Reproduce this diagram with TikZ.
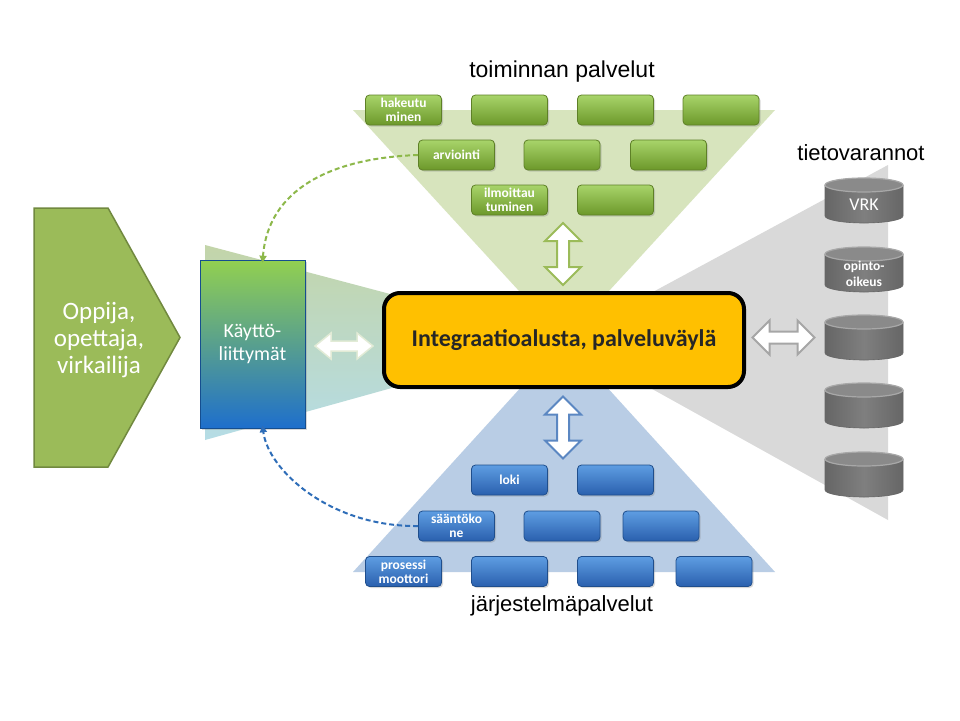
\documentclass[tikz,border=0pt]{standalone}
\usepackage{fontspec}
\setmainfont{Carlito}
\newfontfamily\arialf{Liberation Sans}
\usetikzlibrary{shadows,arrows.meta,calc}
\definecolor{trigreen}{HTML}{D7E4BD}
\definecolor{triblue}{HTML}{B9CDE5}
\definecolor{trigray}{HTML}{D9D9D9}
\definecolor{olive}{HTML}{9BBB59}
\definecolor{olivedk}{HTML}{71893F}
\definecolor{gtop}{HTML}{A8D46A}
\definecolor{gbot}{HTML}{6C982A}
\definecolor{gline}{HTML}{5E8027}
\definecolor{btop}{HTML}{5E9DE2}
\definecolor{bbot}{HTML}{2A60AE}
\definecolor{bline}{HTML}{1F4E8C}
\definecolor{yel}{HTML}{FFC000}
\definecolor{uitop}{HTML}{92D050}
\definecolor{uibot}{HTML}{1E6FCC}
\definecolor{ltrione}{HTML}{C3D5A9}
\definecolor{ltritwo}{HTML}{B5DCE6}
\definecolor{cylbody}{HTML}{7F7F7F}
\definecolor{cyldark}{HTML}{666666}
\definecolor{cyltop}{HTML}{8A8A8A}
\definecolor{cylrim}{HTML}{A8A8A8}
\definecolor{garr}{HTML}{9BBB59}
\definecolor{barr}{HTML}{5B87C2}
\definecolor{grarr}{HTML}{A6A6A6}
\definecolor{larr}{HTML}{E2EBD6}
\definecolor{gdashc}{HTML}{8DB84A}
\definecolor{bdashc}{HTML}{2E6DB8}
\tikzset{
  heading/.style={font=\arialf\fontsize{22}{26}\selectfont, inner sep=0pt},
  smallbox/.style={rounded corners=4pt, minimum width=76pt, minimum height=30pt,
    text=white, font=\bfseries\fontsize{13.5}{14}\selectfont, align=center, inner sep=0pt,
    line width=0.8pt, drop shadow={shadow xshift=1.5pt, shadow yshift=-1.5pt, opacity=0.3}},
  gbox/.style={smallbox, top color=gtop, bottom color=gbot, draw=gline},
  bbox/.style={smallbox, top color=btop, bottom color=bbot, draw=bline},
  cyltext/.style={text=white, align=center, inner sep=0pt},
  pics/dblarrow/.style n args={4}{code={
    \path[pic actions] (-#1,0) -- ({-#1+#2},-#3) -- ({-#1+#2},-#4) -- ({#1-#2},-#4) -- ({#1-#2},-#3)
      -- (#1,0) -- ({#1-#2},#3) -- ({#1-#2},#4) -- ({-#1+#2},#4) -- ({-#1+#2},#3) -- cycle;
  }},
  dashconn/.style={line width=2pt, dash pattern=on 5pt off 3pt, -{Triangle[length=7pt,width=7pt]}}
}
\newcommand\mycyl[4]{%
  \begin{scope}[shift={#2}]
    \shade[left color=cyldark, right color=cyldark, middle color=cylbody]
      (-39,-15.5) -- (-39,15.5) arc[start angle=180,end angle=360,x radius=39pt,y radius=7pt] -- (39,-15.5) -- cycle;
    \draw[cyldark, line width=0.6pt] (-39,-15.5) -- (-39,15.5) arc[start angle=180,end angle=360,x radius=39pt,y radius=7pt] -- (39,-15.5);
    \filldraw[fill=cyltop, draw=cylrim, line width=1.2pt] (0,-15.5) ellipse[x radius=39pt, y radius=7pt];
  \end{scope}
  \node[cyltext, font=#3] (#1) at ($#2+(0,4)$) {#4};
}
\begin{document}
\begin{tikzpicture}[x=1pt,y=-1pt]
\fill[white] (0,0) rectangle (960,720);
\useasboundingbox (0,0) rectangle (960,720);
\coordinate (ap) at (564,340);
% background triangles
\fill[trigreen] (353,110) -- (775,110) -- (ap) -- cycle;
\fill[triblue] (353,572) -- (775,572) -- (ap) -- cycle;
\fill[trigray] (888,165) -- (888,520) -- (ap) -- cycle;
\shade[top color=ltrione, bottom color=ltritwo] (205,245) -- (ap) -- (205,440) -- cycle;
% headings
\node[heading, font=\arialf\fontsize{23}{26}\selectfont] (th) at (562,72) {toiminnan palvelut};
\node[heading] (jh) at (562,606) {järjestelmäpalvelut};
\node[heading] (tv) at (861,153) {tietovarannot};
% green service boxes
\node[gbox] (g11) at (403.5,110) {hakeutu\\minen};
\node[gbox] (g12) at (509.5,110) {};
\node[gbox] (g13) at (615.5,110) {};
\node[gbox] (g14) at (721,110) {};
\node[gbox] (g21) at (456.5,155) {arviointi};
\node[gbox] (g22) at (562,155) {};
\node[gbox] (g23) at (668.5,155) {};
\node[gbox] (g31) at (509.5,200) {ilmoittau\\tuminen};
\node[gbox] (g32) at (615.5,200) {};
% blue system boxes
\node[bbox] (b11) at (509.5,480) {loki};
\node[bbox] (b12) at (615.5,480) {};
\node[bbox] (b21) at (456.5,526) {sääntöko\\ne};
\node[bbox] (b22) at (562,526) {};
\node[bbox] (b23) at (661,526) {};
\node[bbox] (b31) at (403.5,571.5) {prosessi\\moottori};
\node[bbox] (b32) at (509.5,571.5) {};
\node[bbox] (b33) at (615.5,571.5) {};
\node[bbox] (b34) at (714,571.5) {};
% databases
\mycyl{db1}{(864,200.5)}{\fontsize{18}{20}\selectfont}{VRK}
\mycyl{db2}{(864,269.5)}{\bfseries\fontsize{13.5}{16}\selectfont}{opinto-\\oikeus}
\mycyl{db3}{(864,337.5)}{}{}
\mycyl{db4}{(864,405.5)}{}{}
\mycyl{db5}{(864,474.5)}{}{}
% user pentagon
\draw[fill=olive, draw=olivedk, line width=1.5pt] (34,208) -- (108,208) -- (180,337.5) -- (108,467) -- (34,467) -- cycle;
\node[text=white, align=center, font=\fontsize{25}{27}\selectfont] (user) at (99,340) {Oppija,\\opettaja,\\virkailija};
% UI box
\node[top color=uitop, bottom color=uibot, draw=uibot!70!black, line width=0.6pt,
      minimum width=105pt, minimum height=168pt, inner sep=0pt, text=white, align=center,
      font=\fontsize{20}{23}\selectfont,
      drop shadow={shadow xshift=2pt, shadow yshift=-2pt, opacity=0.3}] (ui) at (252.5,344) {Käyttö-\\liittymät};
% integration platform
\node[fill=yel, draw=black, line width=4pt, rounded corners=16pt, minimum width=360pt, minimum height=94pt,
      font=\bfseries\fontsize{24}{28}\selectfont, text=black!85] (ib) at (564,340) {Integraatioalusta, palveluväylä};
% double arrows
\pic[draw=garr, fill=white, line width=2pt, rotate=90] (ag) at (563,254) {dblarrow={31}{18}{18}{6}};
\pic[draw=barr, fill=white, line width=2pt, rotate=90] (ab) at (563,427.5) {dblarrow={31}{18}{18}{6}};
\pic[draw=grarr, fill=white, line width=2pt] (agr) at (783.5,337.5) {dblarrow={31}{17}{17}{6}};
\pic[draw=larr, fill=white, line width=1.5pt] (al) at (344,346) {dblarrow={29}{16}{13}{5}};
% dashed connectors
\draw[dashconn, gdashc] (g21.west) .. controls (330,158) and (268,190) .. ([xshift=10pt,yshift=-3pt]ui.north);
\draw[dashconn, bdashc] (b21.west) .. controls (330,527) and (268,470) .. ([xshift=10pt,yshift=3pt]ui.south);
\end{tikzpicture}
\end{document}
